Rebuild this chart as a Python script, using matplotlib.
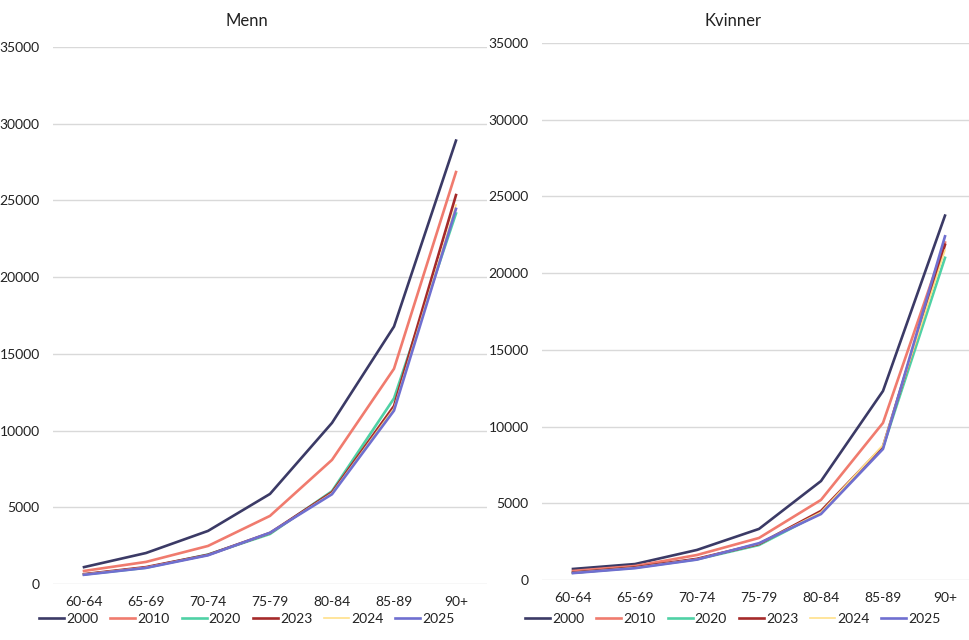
import matplotlib
matplotlib.use("Agg")
import matplotlib.pyplot as plt

plt.rcParams["font.family"] = ["Lato", "DejaVu Sans"]

age_groups = ["60-64", "65-69", "70-74", "75-79", "80-84", "85-89", "90+"]
years = ["2000", "2010", "2020", "2023", "2024", "2025"]

# Menn
menn_2000 = [1100, 2020, 3460, 5870, 10500, 16780, 28900]
menn_2010 = [850, 1440, 2480, 4440, 8090, 14030, 26850]
menn_2020 = [620, 1060, 1920, 3260, 6050, 12100, 24150]
menn_2023 = [640, 1100, 1900, 3330, 5980, 11600, 25350]
menn_2024 = [630, 1080, 1880, 3320, 5920, 11450, 24700]
menn_2025 = [600, 1050, 1870, 3340, 5850, 11300, 24450]

# Kvinner
kvinner_2000 = [720, 1040, 1960, 3330, 6450, 12320, 23750]
kvinner_2010 = [590, 910, 1630, 2740, 5220, 10240, 22000]
kvinner_2020 = [470, 800, 1350, 2280, 4370, 8650, 21000]
kvinner_2023 = [480, 820, 1380, 2350, 4500, 8700, 21850]
kvinner_2024 = [470, 800, 1350, 2370, 4420, 8800, 21500]
kvinner_2025 = [450, 770, 1330, 2400, 4300, 8540, 22400]

colors = {
    "2000": "#3b3a66",
    "2010": "#f07b6e",
    "2020": "#4fd1a5",
    "2023": "#a52a2a",
    "2024": "#ffe08a",
    "2025": "#6f6fd0",
}
widths = {"2024": 1.2}

panels = [
    ("Menn", [menn_2000, menn_2010, menn_2020, menn_2023, menn_2024, menn_2025],
     [53 / 970, 1 - 584 / 640, 434 / 970, 537 / 640], 247),
    ("Kvinner", [kvinner_2000, kvinner_2010, kvinner_2020, kvinner_2023, kvinner_2024, kvinner_2025],
     [542 / 970, 1 - 580 / 640, 434 / 970, 537 / 640], 733),
]

fig = plt.figure(figsize=(9.7, 6.4), dpi=100)

for title, series, rect, title_x in panels:
    ax = fig.add_axes(rect)
    x = range(len(age_groups))
    for year, values in zip(years, series):
        ax.plot(x, values, color=colors[year], lw=widths.get(year, 1.9),
                label=year, solid_joinstyle="round")
    ax.set_xlim(-0.5, len(age_groups) - 0.5)
    ax.set_ylim(0, 35000)
    ax.set_yticks(range(0, 35001, 5000))
    ax.set_xticks(list(x))
    ax.set_xticklabels(age_groups)
    ax.grid(axis="y", color="#d9d9d9", lw=1)
    ax.set_axisbelow(True)
    for s in ax.spines.values():
        s.set_visible(False)
    ax.tick_params(axis="both", length=0, labelsize=10, colors="#222222")
    ax.tick_params(axis="y", pad=9.5)
    ax.tick_params(axis="x", pad=9)
    fig.text(title_x / 970, 1 - 21 / 640, title, ha="center", va="center",
             fontsize=12, color="#222222")
    handles, labels = ax.get_legend_handles_labels()
    fig.legend(handles, labels, loc="center", ncol=6, frameon=False,
               bbox_to_anchor=(title_x / 970, 1 - 619 / 640),
               fontsize=10, handlelength=1.8, handletextpad=0.15,
               columnspacing=0.85, labelcolor="#222222")

fig.savefig("out.png", dpi=100)
